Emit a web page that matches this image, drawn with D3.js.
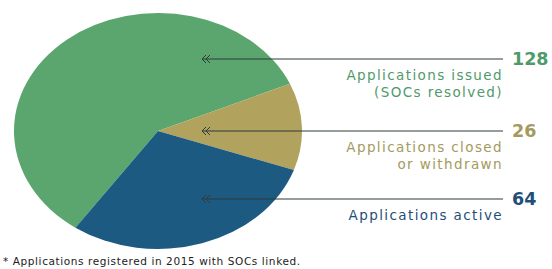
<!doctype html>
<html>
<head>
<script src="https://cdnjs.cloudflare.com/ajax/libs/d3/7.8.5/d3.min.js"></script>
<style>
  body { margin: 0; background: #fff; }
  svg { display: block; font-family: "DejaVu Sans", sans-serif; }
</style>
</head>
<body>
<svg width="552" height="269"></svg>
<script>
// data
var categories = ["Applications issued", "Applications closed", "Applications active"];
var values = [128, 26, 64];
var labelLines = [["Applications issued", "(SOCs resolved)"], ["Applications closed", "or withdrawn"], ["Applications active"]];
var colors = ["#5ba66f", "#b1a35e", "#1d5a82"];
var textColors = ["#4f9a6a", "#a49a5e", "#1f4f78"];
var footnote = "* Applications registered in 2015 with SOCs linked.";

var svg = d3.select("svg");

var cx = 158, cy = 131, rx = 144, ry = 118;

var pie = d3.pie().sort(null)
    .startAngle(-145 * Math.PI / 180)
    .endAngle(-145 * Math.PI / 180 + 2 * Math.PI);
var arcs = pie(values);

var arc = d3.arc().innerRadius(0).outerRadius(ry);

var g = svg.append("g")
    .attr("transform", "translate(" + cx + "," + cy + ") scale(" + (rx / ry) + ",1)");

g.selectAll("path")
    .data(arcs)
    .enter().append("path")
    .attr("d", arc)
    .attr("fill", function (d, i) { return colors[i]; });

// leader lines
var lineY = [59, 131, 199];
var lineX0 = 203, lineX1 = 503;

var lead = svg.append("g");
lead.selectAll("line")
    .data(lineY)
    .enter().append("line")
    .attr("x1", lineX0).attr("x2", lineX1)
    .attr("y1", function (d) { return d; })
    .attr("y2", function (d) { return d; })
    .attr("stroke", "#2f3a3a")
    .attr("stroke-width", 1.2);

// double chevrons
lead.selectAll("path.chev")
    .data(lineY)
    .enter().append("path")
    .attr("class", "chev")
    .attr("d", function (d) {
        return "M" + (lineX0 + 3) + "," + (d - 4) + "L" + (lineX0 - 1) + "," + d + "L" + (lineX0 + 3) + "," + (d + 4) +
               "M" + (lineX0 + 7) + "," + (d - 4) + "L" + (lineX0 + 3) + "," + d + "L" + (lineX0 + 7) + "," + (d + 4);
    })
    .attr("fill", "none")
    .attr("stroke", "#2f3a3a")
    .attr("stroke-width", 1);

// numbers
svg.selectAll("text.num")
    .data(values)
    .enter().append("text")
    .attr("class", "num")
    .attr("x", 512)
    .attr("y", function (d, i) { return lineY[i] + 6; })
    .attr("font-size", 17.5)
    .attr("font-weight", 600)
    .attr("fill", function (d, i) { return textColors[i]; })
    .text(function (d) { return d; });

// labels
var labelTop = [80, 152, 220];
labelLines.forEach(function (lines, i) {
    lines.forEach(function (t, j) {
        svg.append("text")
            .attr("x", 503)
            .attr("y", labelTop[i] + j * 17)
            .attr("text-anchor", "end")
            .attr("font-size", 13.5)
            .attr("letter-spacing", 1.4)
            .attr("fill", textColors[i])
            .text(t);
    });
});

// footnote
svg.append("text")
    .attr("x", 3)
    .attr("y", 265)
    .attr("font-size", 10.5)
    .attr("letter-spacing", 0.6)
    .attr("fill", "#222")
    .text(footnote);
</script>
</body>
</html>
